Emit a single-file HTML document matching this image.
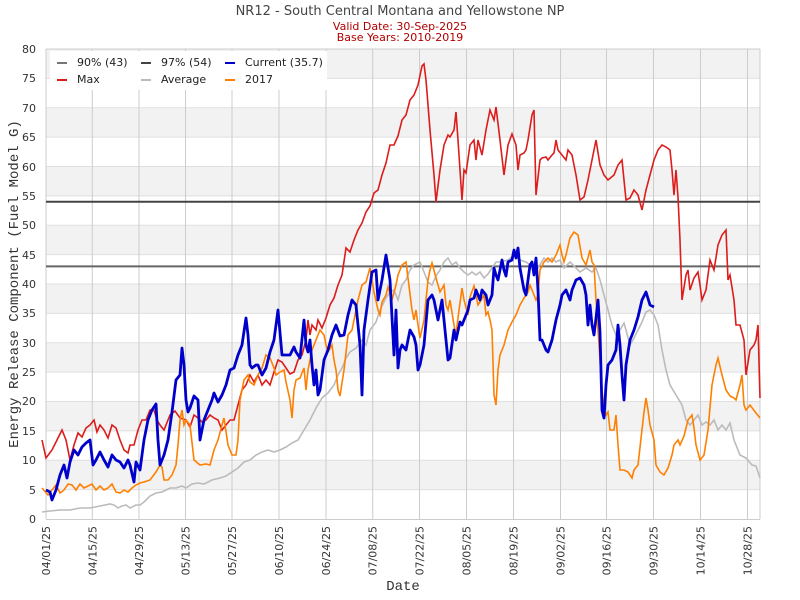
<!DOCTYPE html><html><head><style>body{margin:0;background:#fff}svg{display:block}</style></head><body>
<svg width="800" height="600" xmlns="http://www.w3.org/2000/svg" font-family="DejaVu Sans, Liberation Sans, sans-serif">
<rect width="800" height="600" fill="#fff"/>
<g fill="#f2f2f2">
<rect x="46" y="49" width="714" height="29.4"/><rect x="46" y="107.75" width="714" height="29.4"/><rect x="46" y="166.5" width="714" height="29.4"/><rect x="46" y="225.25" width="714" height="29.4"/><rect x="46" y="284" width="714" height="29.4"/><rect x="46" y="342.75" width="714" height="29.4"/><rect x="46" y="401.5" width="714" height="29.4"/><rect x="46" y="460.25" width="714" height="29.4"/>
</g>
<g stroke="#e0e0e0" stroke-width="1">
<path d="M46 78.4H760M46 107.75H760M46 137.1H760M46 166.5H760M46 195.9H760M46 225.25H760M46 254.6H760M46 284H760M46 313.4H760M46 342.75H760M46 372.1H760M46 401.5H760M46 430.9H760M46 460.25H760M46 489.6H760"/>
</g>
<g stroke="#cccccc" stroke-width="1">
<path d="M46 49V519M92.3 49V519M139 49V519M185.5 49V519M232 49V519M279 49V519M326 49V519M372.7 49V519M419.5 49V519M466.5 49V519M513.5 49V519M560.5 49V519M606.5 49V519M653.5 49V519M700.5 49V519M747.5 49V519M760 49V519M46 49H760M46 519.5H760"/>
</g>
<g font-size="11" fill="#333" text-anchor="end">
<text x="36" y="53">80</text><text x="36" y="82">75</text><text x="36" y="112">70</text><text x="36" y="141">65</text><text x="36" y="171">60</text><text x="36" y="200">55</text><text x="36" y="229">50</text><text x="36" y="259">45</text><text x="36" y="288">40</text><text x="36" y="317">35</text><text x="36" y="347">30</text><text x="36" y="376">25</text><text x="36" y="405">20</text><text x="36" y="435">15</text><text x="36" y="464">10</text><text x="36" y="494">5</text><text x="36" y="523">0</text>
</g>
<g font-size="11" fill="#333" text-anchor="end">
<text transform="translate(50,526) rotate(-90)">04/01/25</text>
<text transform="translate(96.3,526) rotate(-90)">04/15/25</text>
<text transform="translate(143,526) rotate(-90)">04/29/25</text>
<text transform="translate(189.5,526) rotate(-90)">05/13/25</text>
<text transform="translate(236,526) rotate(-90)">05/27/25</text>
<text transform="translate(283,526) rotate(-90)">06/10/25</text>
<text transform="translate(330,526) rotate(-90)">06/24/25</text>
<text transform="translate(376.7,526) rotate(-90)">07/08/25</text>
<text transform="translate(423.5,526) rotate(-90)">07/22/25</text>
<text transform="translate(470.5,526) rotate(-90)">08/05/25</text>
<text transform="translate(517.5,526) rotate(-90)">08/19/25</text>
<text transform="translate(564.5,526) rotate(-90)">09/02/25</text>
<text transform="translate(610.5,526) rotate(-90)">09/16/25</text>
<text transform="translate(657.5,526) rotate(-90)">09/30/25</text>
<text transform="translate(704.5,526) rotate(-90)">10/14/25</text>
<text transform="translate(751.5,526) rotate(-90)">10/28/25</text>
</g>
<text x="400" y="15" font-size="13" fill="#444" text-anchor="middle">NR12 - South Central Montana and Yellowstone NP</text>
<text x="400" y="30" font-size="11" fill="#b00000" text-anchor="middle">Valid Date: 30-Sep-2025</text>
<text x="400" y="41" font-size="11" fill="#b00000" text-anchor="middle">Base Years: 2010-2019</text>
<text x="403" y="590" font-size="14" fill="#333" text-anchor="middle" font-family="Liberation Mono, monospace">Date</text>
<text transform="translate(18,284) rotate(-90)" font-size="14" fill="#333" text-anchor="middle" font-family="Liberation Mono, monospace">Energy Release Component (Fuel Model G)</text>
<path d="M46 266.4H760" stroke="#666" stroke-width="2"/>
<path d="M46 201.75H760" stroke="#444" stroke-width="2"/>
<polyline fill="none" stroke="#bbbbbb" stroke-width="1.6" points="42,512 50,511 60,510 70,510 80,508 90,508 100,506 110,504 114,505 118,508 122,506 126,505 130,508 136,505 140,505 144,502 150,496 156,493 162,492 166,490 170,488 176,488 182,486 186,488 192,484 198,483 204,484 212,480 220,478 226,476 232,472 238,468 244,462 250,460 256,455 262,452 268,450 274,452 280,450 286,447 292,443 298,440 304,430 310,420 316,408 322,398 328,393 334,385 338,375 342,368 346,358 350,352 356,348 362,340 366,345 370,330 376,322 380,310 386,298 390,292 394,290 398,300 402,285 406,280 410,270 414,265 420,262 424,272 428,282 432,285 436,276 440,270 444,262 448,258 452,265 456,262 460,268 464,272 468,275 472,272 476,275 480,272 484,278 488,274 492,268 496,262 500,262 508,260 514,255 520,260 526,262 532,266 538,268 544,258 548,262 552,258 556,262 560,260 564,268 570,262 576,268 580,272 586,268 592,272 596,268 600,280 604,295 608,310 612,325 616,335 620,330 624,323 626,330 630,345 634,338 638,330 642,322 646,312 650,310 654,315 658,325 662,350 666,370 670,385 676,395 682,405 686,420 690,425 694,420 698,415 702,425 706,422 710,425 714,420 718,430 722,425 726,430 730,423 734,440 740,455 746,458 752,465 756,466 760,478"/>
<polyline fill="none" stroke="#dd1c1c" stroke-width="1.6" points="42,440 46,458 52,450 58,438 62,430 66,440 70,460 74,445 78,433 82,437 86,428 90,425 94,420 97,432 100,425 104,430 108,438 112,425 116,428 120,440 124,450 128,453 130,445 134,445 138,430 142,420 146,420 150,410 154,410 157,420 160,425 164,430 170,415 175,411 180,418 186,420 190,427 194,415 198,418 202,422 206,420 210,415 214,418 218,420 222,430 226,425 230,420 234,420 238,405 242,390 246,385 250,375 254,382 258,375 262,385 266,380 270,385 274,372 278,360 282,362 286,368 290,374 294,372 298,360 302,355 306,340 308,320 310,335 312,325 316,330 318,320 322,328 326,318 330,305 334,298 338,285 342,275 346,248 350,252 354,240 358,230 362,223 366,212 370,206 374,193 378,190 382,175 386,163 390,145 394,145 398,136 402,120 406,115 410,100 414,95 418,85 422,66 424,64 426,80 430,130 434,175 436,202 440,170 444,145 448,135 450,137 454,130 456,112 458,140 462,200 464,170 466,173 470,145 474,140 476,160 478,140 482,155 486,130 490,110 494,120 496,107 500,140 504,175 506,160 508,145 512,134 516,145 518,170 520,155 524,153 526,150 528,140 532,115 534,110 536,195 540,160 542,158 546,157 548,160 552,155 554,153 556,140 558,150 562,155 566,160 568,150 572,155 576,175 580,200 584,197 588,180 592,160 596,140 600,165 604,175 608,180 614,175 618,165 622,160 626,200 630,198 634,190 638,195 642,210 646,190 650,175 654,160 658,150 662,145 666,147 670,150 672,170 674,195 676,170 678,197 680,240 682,300 686,275 688,270 690,290 694,278 698,272 700,285 702,300 704,295 706,290 710,260 714,270 718,245 722,235 726,230 728,280 730,275 734,300 736,325 740,325 744,340 746,375 750,350 754,345 756,340 758,325 760,398"/>
<polyline fill="none" stroke="#ff8000" stroke-width="1.6" points="42,488 48,495 52,490 56,485 60,493 64,490 68,484 72,485 76,490 80,484 84,488 88,486 92,484 96,490 100,486 104,490 108,488 112,484 116,492 120,493 124,490 128,492 132,488 136,485 140,483 144,482 150,480 156,472 160,465 162,467 164,480 168,480 172,475 176,465 178,445 180,420 182,410 184,425 186,420 190,425 194,460 200,465 206,464 210,465 214,450 218,440 222,425 224,418 228,445 232,455 236,455 238,440 240,400 244,380 248,375 250,382 254,385 258,375 262,368 266,355 270,358 274,368 276,375 280,372 284,370 286,382 290,400 292,418 294,390 296,380 300,378 304,368 306,390 308,370 312,350 316,340 320,330 324,335 326,345 328,352 332,345 334,360 336,370 338,390 340,396 344,370 348,335 352,330 356,310 358,300 362,285 366,282 370,268 374,292 378,310 380,315 382,302 386,295 388,287 392,300 396,285 398,275 402,265 406,262 412,310 414,320 416,310 418,325 420,338 424,320 426,300 428,280 430,270 432,263 436,278 440,292 444,285 446,305 448,310 450,300 454,325 456,335 458,318 462,288 464,300 468,315 470,297 474,286 478,305 480,302 484,295 486,315 488,312 490,320 492,330 494,395 496,405 498,370 500,355 504,345 508,330 512,322 516,315 520,305 524,298 528,292 530,285 532,290 536,300 538,295 540,270 544,262 548,258 552,262 556,255 560,245 562,255 564,262 566,255 570,238 574,232 578,235 582,258 586,265 590,250 592,262 594,265 596,300 598,330 600,360 602,390 604,410 606,415 608,412 610,430 614,430 616,415 618,445 620,470 624,470 628,472 632,478 634,470 638,465 644,412 646,398 648,410 650,425 654,440 656,465 660,472 664,475 668,468 672,455 674,445 678,440 680,445 684,436 688,420 692,415 694,428 696,445 700,460 704,455 708,430 712,385 716,365 718,358 722,375 726,390 730,396 734,398 736,400 740,385 742,375 744,405 746,410 750,405 756,413 760,418"/>
<polyline fill="none" stroke="#0000cc" stroke-width="2.8" stroke-linejoin="round" points="46,490 50,492 52,500 56,490 60,475 64,465 67,478 70,462 74,450 78,455 82,447 86,443 90,440 93,465 96,460 100,452 104,460 108,467 112,455 116,460 120,462 124,468 128,460 130,465 134,482 136,462 140,470 144,440 148,420 152,410 156,404 158,440 160,465 164,455 168,440 172,412 176,380 180,375 182,348 184,365 186,400 188,412 190,408 194,396 198,400 200,440 204,420 208,410 212,400 214,393 218,402 222,395 226,385 230,370 234,368 238,355 242,345 246,318 248,335 250,365 252,368 256,365 258,365 262,375 266,368 270,352 274,340 278,310 282,355 286,355 290,355 294,347 296,352 300,358 304,320 306,345 308,352 310,340 312,365 314,385 316,370 318,395 320,390 324,360 328,350 332,335 336,325 340,336 344,335 348,315 352,300 356,305 360,345 362,395 364,330 368,300 372,272 376,270 378,300 380,290 382,280 386,255 390,280 394,355 396,310 398,368 400,350 402,345 406,350 410,330 414,337 416,345 418,370 420,365 424,345 428,300 432,295 434,300 438,320 442,300 446,340 448,360 450,358 454,330 456,340 460,322 462,325 464,320 468,310 470,300 474,298 476,290 480,300 482,290 486,295 488,305 492,295 494,268 496,275 498,280 502,260 504,270 506,276 508,262 512,260 514,250 516,258 518,248 520,268 524,290 526,295 530,265 532,262 534,275 536,258 538,290 540,340 542,340 546,350 548,352 552,340 556,320 560,305 562,295 566,290 570,300 572,290 576,280 580,278 584,285 586,295 588,325 590,305 592,325 594,335 596,318 598,300 600,332 602,410 604,418 606,385 608,365 612,360 616,350 618,325 620,345 622,375 624,400 626,365 630,340 634,330 638,317 642,300 646,292 650,305 654,307"/>
<rect x="50" y="51" width="277" height="39" fill="#fff"/>
<g font-size="11" fill="#222">
<path d="M57 63h10" stroke="#777" stroke-width="2"/><text x="77" y="66">90% (43)</text>
<path d="M141 63h10" stroke="#444" stroke-width="2"/><text x="161" y="66">97% (54)</text>
<path d="M225 63h10" stroke="#0000cc" stroke-width="2"/><text x="245" y="66">Current (35.7)</text>
<path d="M57 80h10" stroke="#dd1c1c" stroke-width="2"/><text x="77" y="83">Max</text>
<path d="M141 80h10" stroke="#bbb" stroke-width="2"/><text x="161" y="83">Average</text>
<path d="M225 80h10" stroke="#ff8000" stroke-width="2"/><text x="245" y="83">2017</text>
</g>
</svg>
</body></html>
